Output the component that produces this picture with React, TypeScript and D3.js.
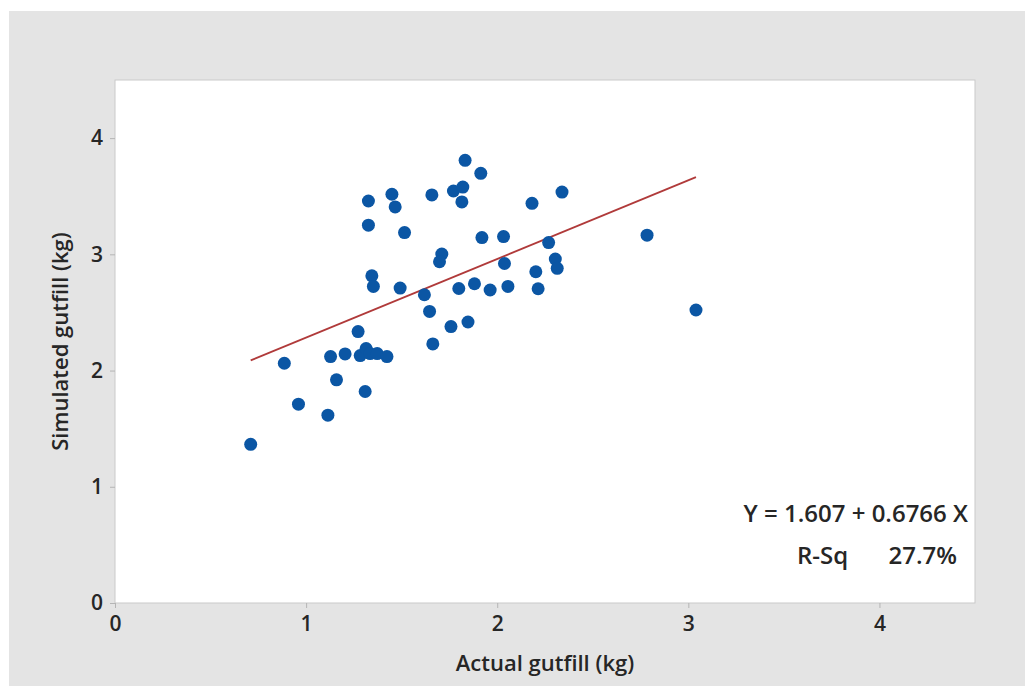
import React, { useEffect, useRef } from 'react';
import * as d3 from 'd3';

// Actual gutfill (kg)
const actual = [
  0.71, 0.886, 0.96, 1.114, 1.159, 1.128, 1.204, 1.272, 1.309, 1.283,
  1.314, 1.335, 1.372, 1.423, 1.326, 1.449, 1.466, 1.326, 1.515, 1.71,
  1.698, 1.344, 1.352, 1.492, 1.619, 1.646, 1.663, 1.758, 1.847, 1.658,
  1.832, 1.914, 1.771, 1.82, 1.815, 2.182, 2.339, 1.92, 2.033, 2.269,
  2.038, 2.304, 2.314, 2.202, 1.799, 1.881, 1.963, 2.056, 2.214, 2.784,
  3.04
];

// Simulated gutfill (kg)
const simulated = [
  1.365, 2.063, 1.711, 1.616, 1.92, 2.12, 2.143, 2.335, 1.82, 2.129,
  2.189, 2.146, 2.146, 2.12, 3.459, 3.517, 3.408, 3.251, 3.187, 3.002,
  2.936, 2.815, 2.724, 2.71, 2.652, 2.509, 2.229, 2.378, 2.418, 3.511,
  3.809, 3.697, 3.545, 3.579, 3.451, 3.439, 3.536, 3.144, 3.153, 3.101,
  2.921, 2.959, 2.88, 2.85, 2.706, 2.747, 2.693, 2.724, 2.704, 3.165,
  2.521
];

const xTicks = [0, 1, 2, 3, 4];
const yTicks = [0, 1, 2, 3, 4];

// fitted line
const intercept = 1.607;
const slope = 0.6766;
const fitLabel = 'Y = 1.607 + 0.6766 X';
const rsqLabel = 'R-Sq';
const rsqValue = '27.7%';

export default function App() {
  const ref = useRef<SVGSVGElement>(null);

  useEffect(() => {
    const width = 1025;
    const height = 686;
    const margin = { top: 80, right: 50, bottom: 83, left: 115 };
    const font = '"Open Sans", "Noto Sans", sans-serif';
    const ink = '#262626';

    const svg = d3.select(ref.current);
    svg.selectAll('*').remove();

    // background
    svg.append('rect').attr('width', width).attr('height', height).attr('fill', '#fff');
    svg.append('rect')
      .attr('x', 9).attr('y', 11)
      .attr('width', width - 9).attr('height', height - 11)
      .attr('fill', '#e4e4e4');

    let x = d3.scaleLinear()
      .domain([0, 4.5])
      .range([margin.left, width - margin.right]);

    let y = d3.scaleLinear()
      .domain([0, 4.5])
      .range([height - margin.bottom, margin.top]);

    // plot area
    svg.append('rect')
      .attr('x', x(0)).attr('y', y(4.5))
      .attr('width', x(4.5) - x(0)).attr('height', y(0) - y(4.5))
      .attr('fill', '#fff')
      .attr('stroke', '#c9c9c9');

    // x axis
    let xAxis = svg.append('g')
      .attr('transform', `translate(0, ${y(0)})`)
      .call(d3.axisBottom(x).tickValues(xTicks).tickFormat(d3.format('d')).tickSizeOuter(0).tickSize(5).tickPadding(8));
    xAxis.select('.domain').remove();
    xAxis.selectAll('line').attr('stroke', '#b5b5b5');
    xAxis.selectAll('text')
      .attr('font-family', font).attr('font-size', 21).attr('font-weight', 600).attr('fill', ink);

    // y axis
    let yAxis = svg.append('g')
      .attr('transform', `translate(${x(0)}, 0)`)
      .call(d3.axisLeft(y).tickValues(yTicks).tickFormat(d3.format('d')).tickSizeOuter(0).tickSize(5).tickPadding(7));
    yAxis.select('.domain').remove();
    yAxis.selectAll('line').attr('stroke', '#b5b5b5');
    yAxis.selectAll('text')
      .attr('font-family', font).attr('font-size', 21).attr('font-weight', 600).attr('fill', ink);

    // titles
    svg.append('text')
      .attr('x', (x(0) + x(4.5)) / 2).attr('y', 671)
      .attr('text-anchor', 'middle')
      .attr('font-family', font).attr('font-size', 22).attr('font-weight', 600).attr('fill', ink)
      .text('Actual gutfill (kg)');

    svg.append('text')
      .attr('transform', `translate(68, ${(y(0) + y(4.5)) / 2}) rotate(-90)`)
      .attr('text-anchor', 'middle')
      .attr('font-family', font).attr('font-size', 22).attr('font-weight', 600).attr('fill', ink)
      .text('Simulated gutfill (kg)');

    // regression line
    const x0 = d3.min(actual) as number;
    const x1 = d3.max(actual) as number;
    const line = d3.line<number>()
      .x(d => x(d))
      .y(d => y(intercept + slope * d));
    svg.append('path')
      .datum([x0, x1])
      .attr('d', line)
      .attr('fill', 'none')
      .attr('stroke', '#b03a3a')
      .attr('stroke-width', 1.8);

    // points
    svg.append('g')
      .selectAll('circle')
      .data(actual.map((a, i) => [a, simulated[i]]))
      .join('circle')
      .attr('cx', d => x(d[0]))
      .attr('cy', d => y(d[1]))
      .attr('r', 6.5)
      .attr('fill', '#0b56a4');

    // fit annotation
    const ann = svg.append('g')
      .attr('font-family', font).attr('font-size', 24).attr('font-weight', 600).attr('fill', ink);
    ann.append('text')
      .attr('x', 968).attr('y', 522)
      .attr('text-anchor', 'end')
      .text(fitLabel);
    ann.append('text')
      .attr('x', 797).attr('y', 564)
      .text(rsqLabel);
    ann.append('text')
      .attr('x', 957).attr('y', 564)
      .attr('text-anchor', 'end')
      .text(rsqValue);
  }, []);

  return (
    <div style={{ position: 'absolute', left: 0, top: 0 }}>
      <svg ref={ref} width={1025} height={686} style={{ display: 'block' }}></svg>
    </div>
  );
}
